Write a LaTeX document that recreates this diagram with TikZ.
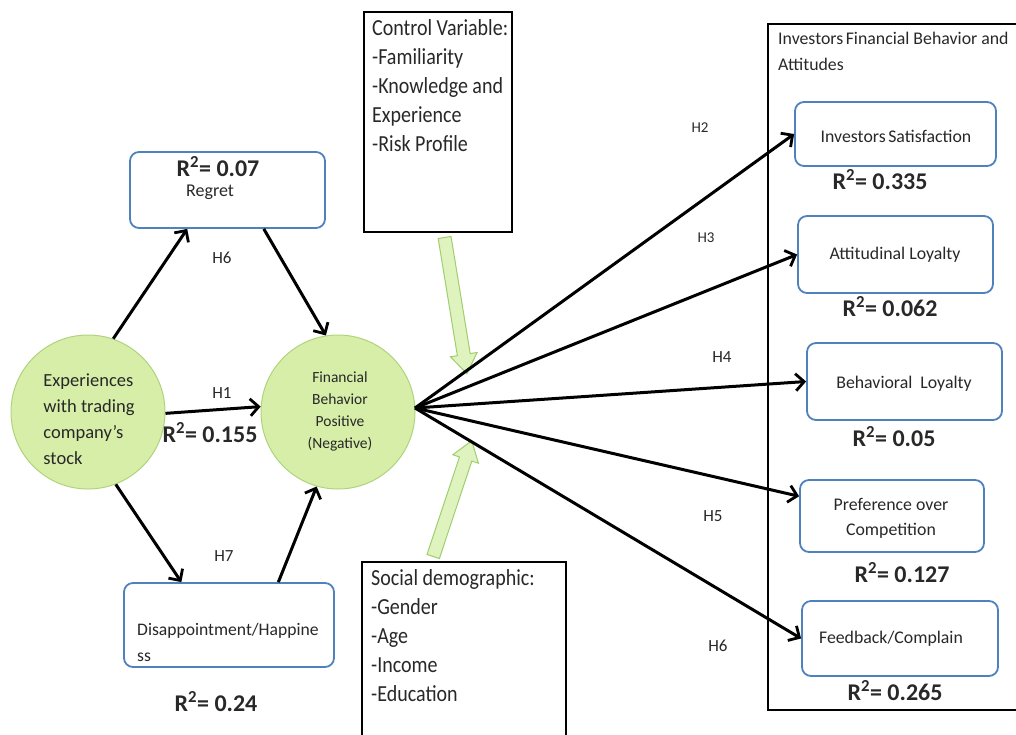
\documentclass[tikz,border=0pt]{standalone}
\usepackage{fontspec}
\setmainfont{Carlito}
\newfontfamily\listfont{Carlito}[FakeStretch=0.87]
\usetikzlibrary{arrows.meta,shapes.arrows,calc}
\definecolor{circfill}{RGB}{215,238,168}
\definecolor{circdraw}{RGB}{175,212,125}
\definecolor{boxblue}{RGB}{79,129,189}
\definecolor{garfill}{RGB}{222,243,190}
\definecolor{gardraw}{RGB}{160,205,110}
\definecolor{txt}{RGB}{40,40,40}
\begin{document}
\begin{tikzpicture}[x=1pt,y=-1pt,
  every node/.style={text=txt},
  circ/.style={circle,fill=circfill,draw=circdraw,line width=1pt,minimum size=154pt,inner sep=0pt},
  bluebox/.style={rectangle,rounded corners=9pt,draw=boxblue,line width=1.8pt,fill=white,inner sep=0pt},
  blackbox/.style={rectangle,draw=black,line width=2.3pt,inner sep=0pt},
  arr/.style={line width=3pt,-{Straight Barb[length=8.5pt,width=17pt,line width=2.8pt]}},
  rsq/.style={font=\fontsize{24}{28}\selectfont\bfseries},
  hlab/.style={font=\fontsize{17}{20}\selectfont},
  hlabs/.style={font=\fontsize{15}{18}\selectfont},
  btxt/.style={font=\fontsize{18}{22}\selectfont},
  rtxt/.style={font=\fontsize{17.8}{22}\selectfont},
  listtxt/.style={font=\listfont\fontsize{23}{29}\selectfont,align=left,anchor=north west,inner sep=0pt},
  garrow/.style={single arrow,draw=gardraw,fill=garfill,line width=1pt,inner sep=6pt,
     single arrow head extend=7pt,single arrow tip angle=70,minimum height=#1}
]
\useasboundingbox (0,0) rectangle (1016,734);

% left part
\node[circ] (exp) at (88,412) {};
\node[align=left,font=\fontsize{18.5}{26}\selectfont] (exptxt) at (89,419) {Experiences\\with trading\\company's\\stock};
\node[circ] (fin) at (338,412) {};
\node[align=center,font=\fontsize{15.5}{22}\selectfont] (fintxt) at (340,411) {Financial\\Behavior\\Positive\\(Negative)};

\node[bluebox,minimum width=195pt,minimum height=76pt] (regret) at (227.5,190) {};
\node[rsq] (rregret) at (218,167) {R\textsuperscript{2}= 0.07};
\node[btxt] (regrettxt) at (210,192) {Regret};

\node[bluebox,minimum width=210pt,minimum height=84pt] (dis) at (229,625) {};
\node[align=left,anchor=west,inner sep=0pt,font=\fontsize{17.6}{26}\selectfont] (distxt) at (137,642) {Disappointment/Happine\\ss};
\node[rsq] (rdis) at (216,702) {R\textsuperscript{2}= 0.24};

\draw[arr] (exp.71) -- (regret.224);
\draw[arr] (regret.-47) -- (fin.99);
\draw[arr] (exp.-1.5) -- (fin.176);
\draw[arr] (exp.-69) -- (dis.138);
\draw[arr] (dis.41) -- (fin.-106);

\node[hlab] (h6a) at (222,258) {H6};
\node[hlab] (h1) at (222,393) {H1};
\node[rsq] (r155) at (210,433) {R\textsuperscript{2}= 0.155};
\node[hlab] (h7) at (224,556) {H7};

% control and social
\node[blackbox,minimum width=148pt,minimum height=220pt] (ctrl) at (438,122) {};
\node[listtxt] (ctrltxt) at (372,19) {Control Variable:\\-Familiarity\\-Knowledge and\\Experience\\-Risk Profile};
\node[blackbox,minimum width=204pt,minimum height=190pt] (soc) at (464,657) {};
\node[listtxt] (soctxt) at (371,569) {Social demographic:\\-Gender\\-Age\\-Income\\-Education};

\node[garrow=138pt,rotate=-80.7] (ga1) at (455,301) {};
\node[garrow=122pt,rotate=71.6] (ga2) at (451,503) {};

% right group
\node[blackbox,minimum width=260pt,minimum height=686pt] (grp) at (898,367) {};
\node[font=\fontsize{17.8}{26}\selectfont,align=left,anchor=north west,inner sep=0pt] (grptxt) at (778,32) {Investors\hspace{-1.5pt} Financial Behavior and\\Attitudes};

\node[bluebox,minimum width=201pt,minimum height=64pt] (sat) at (895.5,134) {};
\node[rtxt] (sattxt) at (896,136) {Investors\hspace{-1.5pt} Satisfaction};
\node[rsq] (rsat) at (880,180) {R\textsuperscript{2}= 0.335};

\node[bluebox,minimum width=195pt,minimum height=77pt] (att) at (895.5,254.5) {};
\node[rtxt] (atttxt) at (895,255) {Attitudinal Loyalty};
\node[rsq] (ratt) at (890,307) {R\textsuperscript{2}= 0.062};

\node[bluebox,minimum width=195pt,minimum height=77pt] (beh) at (904.5,381.5) {};
\node[rtxt] (behtxt) at (904,384) {Behavioral\ \ Loyalty};
\node[rsq] (rbeh) at (894,437) {R\textsuperscript{2}= 0.05};

\node[bluebox,minimum width=184pt,minimum height=72pt] (pref) at (892,516) {};
\node[rtxt,font=\fontsize{17.8}{25}\selectfont,align=center] (preftxt) at (891,518) {Preference over\\Competition};
\node[rsq] (rpref) at (902,573) {R\textsuperscript{2}= 0.127};

\node[bluebox,minimum width=196pt,minimum height=75pt] (feed) at (900,638.5) {};
\node[rtxt] (feedtxt) at (891,639) {Feedback/Complain};
\node[rsq] (rfeed) at (895,691) {R\textsuperscript{2}= 0.265};

\coordinate (hub) at (415,408);
\draw[arr] (hub) -- (sat.west);
\draw[arr] (hub) -- (att.west);
\draw[arr] (hub) -- (beh.west);
\draw[arr] (hub) -- (pref.168);
\draw[arr] (hub) -- (feed.west);

\node[hlabs] (h2) at (700,128) {H2};
\node[hlabs] (h3) at (706,238) {H3};
\node[hlab] (h4) at (722,357) {H4};
\node[hlab] (h5) at (713,516) {H5};
\node[hlab] (h6b) at (718,646) {H6};
\end{tikzpicture}
\end{document}
